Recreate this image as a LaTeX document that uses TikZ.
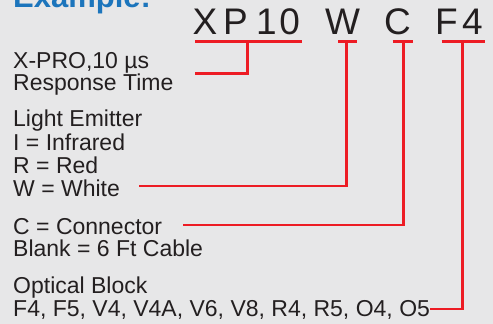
\documentclass[tikz,border=0pt]{standalone}
\usepackage{fontspec}
\setmainfont{Liberation Sans}
\definecolor{bgc}{HTML}{E7E7E8}
\definecolor{txt}{HTML}{231F20}
\definecolor{ttl}{HTML}{1C75BC}
\definecolor{lnr}{HTML}{ED1C24}
\begin{document}
\begin{tikzpicture}[x=1pt,y=-1pt,
  lbl/.style={anchor=base west,inner sep=0pt,text=txt,font=\fontsize{23}{23}\selectfont},
  big/.style={anchor=base,inner sep=0pt,text=txt,font=\fontsize{37}{37}\selectfont},
  redline/.style={draw=lnr,line width=2.6pt}]
\fill[bgc] (0,0) rectangle (493,324);
\useasboundingbox (0,0) rectangle (493,324);
% title
\node[anchor=base west,inner sep=0pt,text=ttl,font=\bfseries\fontsize{31}{31}\selectfont] (title) at (13,7.5) {Example:};
% code letters
\node[big] (cX) at (205,34.3) {X};
\node[big] (cP) at (235.5,34.3) {P};
\node[big] (c1) at (266.5,34.3) {1};
\node[big] (c0) at (289.6,34.3) {0};
\node[big] (cW) at (342.7,34.3) {W};
\node[big] (cC) at (397.5,34.3) {C};
\node[big] (cF) at (446.5,34.3) {F};
\node[big] (c4) at (472.5,34.3) {4};
% labels
\node[lbl] (r1) at (13,68.3) {X-PRO,10 µs};
\node[lbl] (r2) at (13,90.7) {Response Time};
\node[lbl] (e1) at (13,126.7) {Light Emitter};
\node[lbl] (e2) at (13,150) {I = Infrared};
\node[lbl] (e3) at (13,173.3) {R = Red};
\node[lbl] (e4) at (13,196.3) {W = White};
\node[lbl] (k1) at (13,234) {C = Connector};
\node[lbl] (k2) at (13,256.5) {Blank = 6 Ft Cable};
\node[lbl] (o1) at (13,293.5) {Optical Block};
\node[lbl] (o2) at (13,316) {F4, F5, V4, V4A, V6, V8, R4, R5, O4, O5};
% connector points
\coordinate (aL) at (195,41.7);
\coordinate (aR) at (302,41.7);
\coordinate (aM) at (247.7,41.7);
\coordinate (aB) at (247.7,73.7);
\coordinate (aE) at (195,73.7);
\coordinate (wL) at (338.3,41.7);
\coordinate (wR) at (356.7,41.7);
\coordinate (wM) at (346.7,41.7);
\coordinate (wB) at (346.7,186);
\coordinate (wE) at (139,186);
\coordinate (kL) at (392.7,41.7);
\coordinate (kR) at (412.7,41.7);
\coordinate (kM) at (403.3,41.7);
\coordinate (kB) at (403.3,225);
\coordinate (kE) at (183,225);
\coordinate (fL) at (441.7,41.7);
\coordinate (fR) at (485,41.7);
\coordinate (fM) at (462.5,41.7);
\coordinate (fB) at (462.5,309);
\coordinate (fE) at (430,309);
% connectors
\draw[redline] (aL) -- (aR);
\draw[redline] (aM) -- (aB) -- (aE);
\draw[redline] (wL) -- (wR);
\draw[redline] (wM) -- (wB) -- (wE);
\draw[redline] (kL) -- (kR);
\draw[redline] (kM) -- (kB) -- (kE);
\draw[redline] (fL) -- (fR);
\draw[redline] (fM) -- (fB) -- (fE);
\end{tikzpicture}
\end{document}
